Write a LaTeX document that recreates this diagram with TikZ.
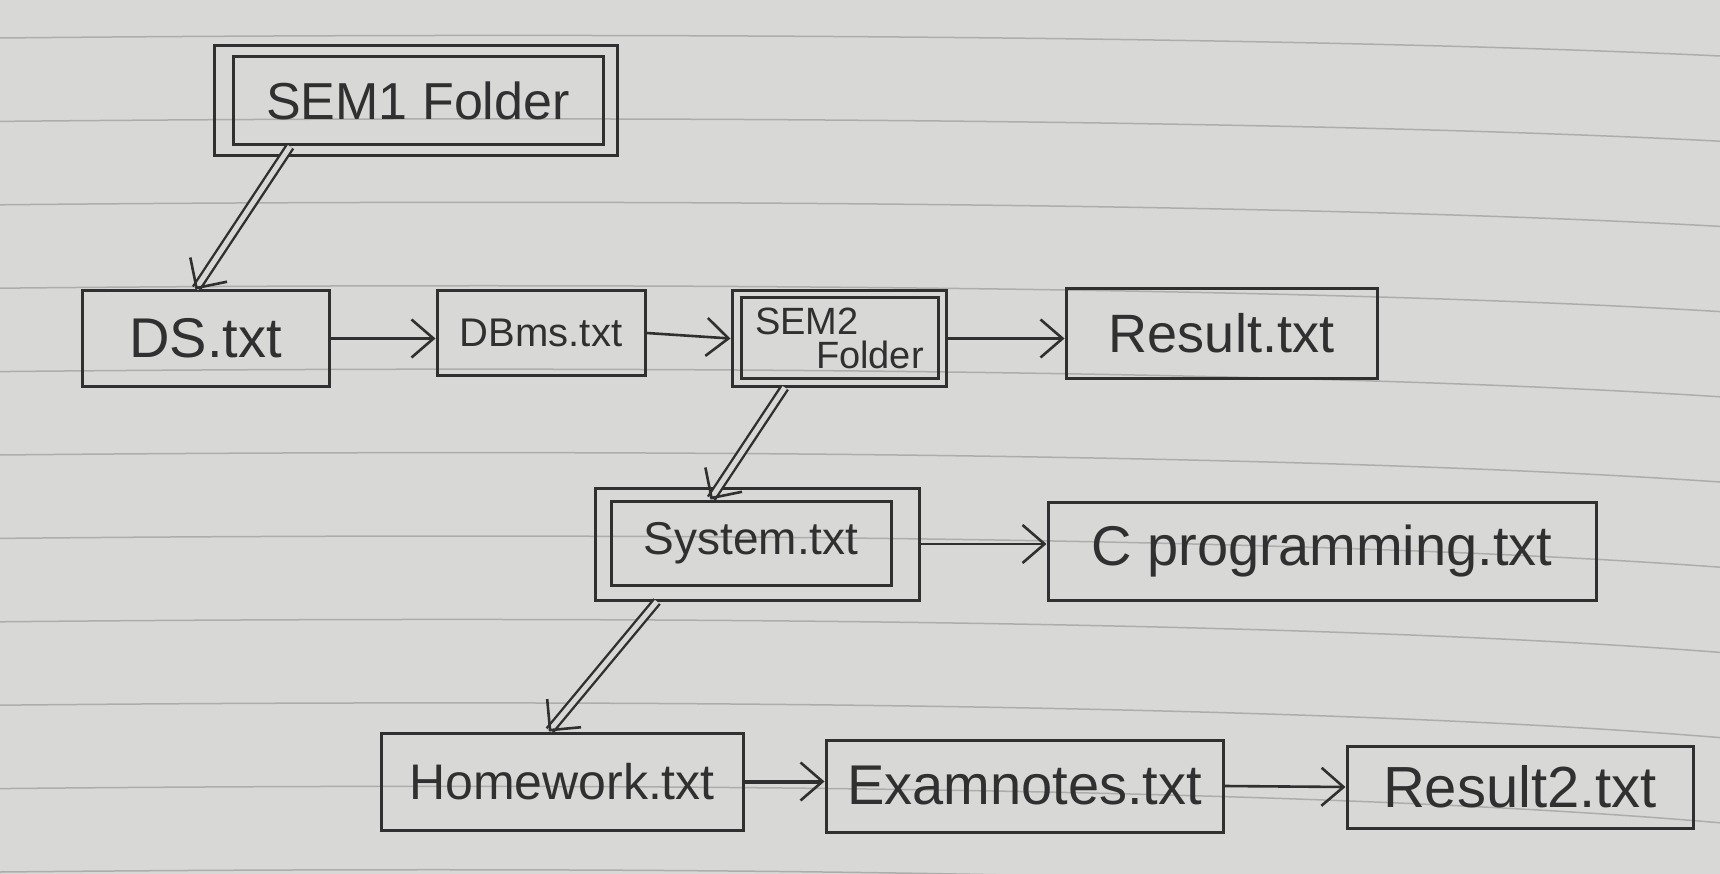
\documentclass[tikz,border=0pt]{standalone}
\usepackage{fontspec}
\setmainfont{Liberation Sans}
\usetikzlibrary{arrows.meta,calc,decorations.markings}
\definecolor{paper}{RGB}{216,217,214}
\definecolor{rule}{RGB}{172,174,172}
\definecolor{ink}{RGB}{48,48,48}
\tikzset{
  box/.style={draw=ink, line width=3pt, rectangle, inner sep=0pt, anchor=center, text=ink},
  fs/.style={font=\fontsize{#1}{#1}\selectfont},
  sarrow/.style={draw=ink, line width=2.6pt, -{Straight Barb[length=22pt,width=38pt,line width=2.6pt]}},
  darrow/.style={draw=ink, line width=2.4pt, double=paper, double distance=5pt, shorten >=1pt,
     postaction={decorate, decoration={markings, mark=at position 1 with
       {\arrow[draw=ink, line width=2.6pt]{Straight Barb[length=22pt,width=44pt]}}}}}
}
\begin{document}
\begin{tikzpicture}[x=1pt,y=-1pt]
\fill[paper] (0,0) rectangle (1720,874);
\useasboundingbox (0,0) rectangle (1720,874);
% ruled lines of the paper
\foreach \i in {0,...,10}{
  \pgfmathsetmacro{\yy}{38+83.4*\i}
  \pgfmathsetmacro{\yr}{\yy+18+1.8*\i}
  \draw[rule, line width=1.5pt] (0,\yy) .. controls (600,\yy-6) and (1300,\yy-2) .. (1720,\yr);
}
% boxes
\node[box, minimum width=403pt, minimum height=110pt] (sem1o) at (415.5,101) {};
\node[box, fs=52, minimum width=370pt, minimum height=88pt] (sem1) at (418,101) {SEM1 Folder};

\node[box, fs=56, minimum width=247pt, minimum height=95pt] (ds) at (205.5,338.5) {DS.txt};
\node[box, fs=40, minimum width=208pt, minimum height=84pt] (dbms) at (541,333) {DBms.txt};

\node[box, minimum width=214pt, minimum height=95pt] (sem2o) at (839,338.5) {};
\node[box, fs=38, align=left, minimum width=197pt, minimum height=80pt] (sem2) at (839.5,338) {SEM2\\[-4pt]\hspace*{1.6em}Folder};

\node[box, fs=54, minimum width=311pt, minimum height=89pt] (result) at (1221.5,333.5) {Result.txt};

\node[box, minimum width=324pt, minimum height=112pt] (systo) at (757,544) {};
\node[box, fs=46, minimum width=280pt, minimum height=84pt] (syst) at (751,543) {System.txt};

\node[box, fs=56, minimum width=548pt, minimum height=98pt] (cprog) at (1322,551) {C programming.txt};

\node[box, fs=50, minimum width=362pt, minimum height=97pt] (hw) at (562,781.5) {Homework.txt};
\node[box, fs=56, minimum width=397pt, minimum height=92pt] (exam) at (1024.5,786) {Examnotes.txt};
\node[box, fs=58, minimum width=346pt, minimum height=82pt] (res2) at (1520,787) {Result2.txt};

% connectors
\draw[darrow] ($(sem1.south west)!0.157!(sem1.south east)$) -- ($(ds.north west)!0.46!(ds.north east)$);
\draw[sarrow] (ds.east) -- (dbms.west |- ds.east);
\draw[sarrow] (dbms.east) -- (sem2o.west);
\draw[sarrow] (sem2o.east) -- (result.west |- sem2o.east);
\draw[darrow] ($(sem2o.south west)!0.25!(sem2o.south east)$) -- ($(syst.north west)!0.357!(syst.north east)$);
\draw[sarrow] (systo.east) -- (cprog.west |- systo.east);
\draw[darrow] ($(systo.south west)!0.194!(systo.south east)$) -- ($(hw.north west)!0.464!(hw.north east)$);
\draw[sarrow, line width=4pt] (hw.east) -- (exam.west |- hw.east);
\draw[sarrow] (exam.east) -- (res2.west);
\end{tikzpicture}
\end{document}
